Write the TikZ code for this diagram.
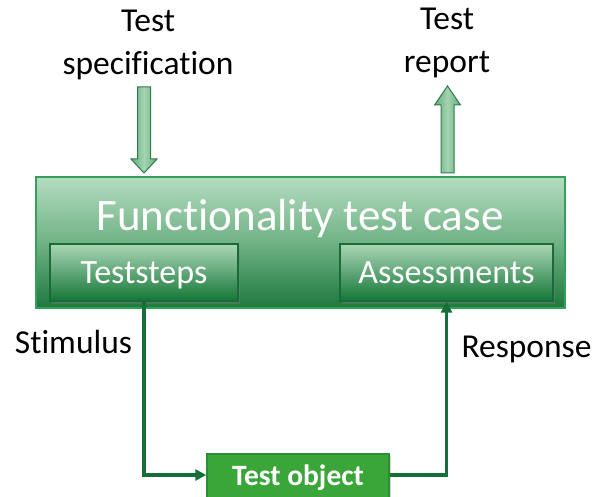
\documentclass[tikz,border=0pt]{standalone}
\usepackage{fontspec}
\setmainfont[Ligatures=NoCommon]{Carlito}
\usetikzlibrary{shadows,arrows.meta}

\definecolor{caseTop}{RGB}{180,220,192}
\definecolor{caseMid}{RGB}{112,178,133}
\definecolor{caseBot}{RGB}{30,120,60}
\definecolor{caseEdge}{RGB}{52,160,92}
\definecolor{partTop}{RGB}{170,214,182}
\definecolor{partBot}{RGB}{20,118,54}
\definecolor{partEdge}{RGB}{24,108,56}
\definecolor{objFill}{RGB}{58,166,58}
\definecolor{objEdge}{RGB}{44,142,52}
\definecolor{linkGreen}{RGB}{22,110,56}
\definecolor{blockEdge}{RGB}{46,125,74}
\definecolor{blockSide}{RGB}{96,172,120}
\definecolor{blockMid}{RGB}{165,212,178}

\tikzset{
  plain/.style={font=\fontsize{33.5}{43}\selectfont, text=black, inner sep=0pt, align=center},
  casebox/.style={draw=caseEdge, line width=1.2pt, minimum width=529pt, minimum height=131pt,
    top color=caseTop, bottom color=caseBot, middle color=caseMid, inner sep=0pt},
  partbox/.style={draw=partEdge, line width=1.2pt, minimum height=57pt, inner sep=0pt,
    top color=partTop, bottom color=partBot, text height=25pt, text depth=4pt,
    drop shadow={shadow xshift=2pt, shadow yshift=-3pt, opacity=0.35},
    text=white, font=\fontsize{34}{38}\selectfont},
  objbox/.style={draw=objEdge, line width=1.5pt, fill=objFill, minimum width=182pt,
    minimum height=52pt, inner sep=0pt, text=white, text height=20pt, text depth=10pt,
    font=\bfseries\fontsize{29.5}{32}\selectfont,
    drop shadow={shadow xshift=1.5pt, shadow yshift=-2pt, opacity=0.3}},
  link/.style={draw=linkGreen, line width=3.5pt, line join=miter,
    -{Triangle[length=11pt,width=11pt]}},
  blockarrow/.style={draw=blockEdge, line width=1pt, left color=blockSide,
    right color=blockSide, middle color=blockMid}
}

\begin{document}
\begin{tikzpicture}[x=1pt,y=-1pt]
\useasboundingbox[fill=white] (0,0) rectangle (594,497);

% input and output documents (anchored on the baseline of the last line)
\node[plain, anchor=base] (spec) at (148,75) {Test\\specification};
\node[plain, anchor=base] (report) at (447,73) {Test\\report};

% test case frame with its title and parts
\node[casebox] (case) at (300.5,242.5) {};
\node[anchor=base, text=white, inner sep=0pt, font=\fontsize{45}{50}\selectfont]
  (title) at (300,230) {Functionality test case};
\node[partbox, minimum width=188pt] (steps) at (144,272.5) {Teststeps};
\node[partbox, minimum width=213pt] (assess) at (446.5,272.5) {Assessments};

% block arrows into and out of the test case
\path[blockarrow] (137.5,87) -- (150.5,87) -- (150.5,159) -- (157,159) -- (144,173)
  -- (131,159) -- (137.5,159) -- cycle;
\path[blockarrow] (441,173) -- (441,105) -- (434.5,105) -- (447.5,86) -- (460.5,105)
  -- (454,105) -- (454,173) -- cycle;

% object under test, running past the lower edge
\node[objbox] (obj) at (298,480) {Test object};

% signal labels
\node[plain, anchor=base] (stim) at (73.5,353) {Stimulus};
\node[plain, anchor=base] (resp) at (526.5,357) {Response};

% stimulus and response paths
\draw[link] (steps.south) |- ([yshift=5pt]obj.west);
\draw[link] ([yshift=5pt]obj.east) -| (assess.south);
\end{tikzpicture}
\end{document}
